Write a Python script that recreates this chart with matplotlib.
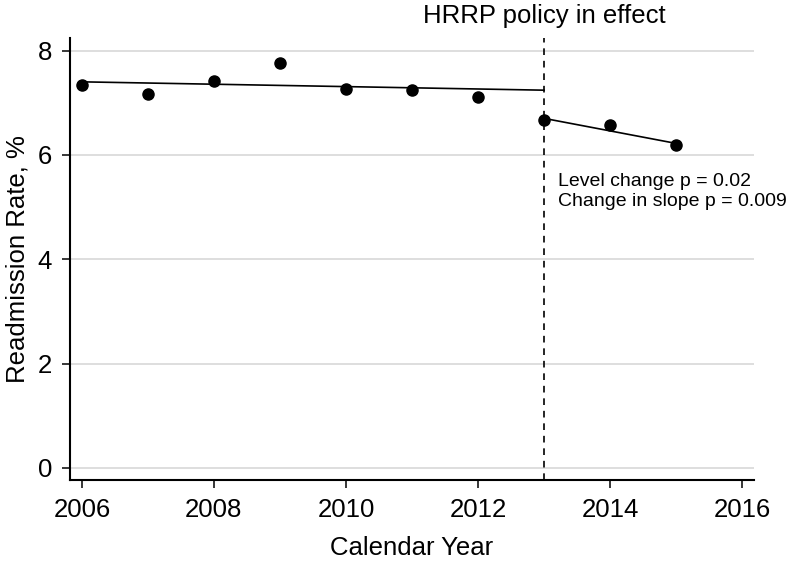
import matplotlib
matplotlib.use("Agg")
import matplotlib.pyplot as plt

years = [2006, 2007, 2008, 2009, 2010, 2011, 2012, 2013, 2014, 2015]
rates = [7.34, 7.16, 7.41, 7.76, 7.27, 7.24, 7.10, 6.67, 6.58, 6.19]
pre_fit_x = [2006, 2013]
pre_fit_y = [7.40, 7.24]
post_fit_x = [2013, 2015]
post_fit_y = [6.70, 6.22]
policy_year = 2013
xticks = [2006, 2008, 2010, 2012, 2014, 2016]
yticks = [0, 2, 4, 6, 8]

plt.rcParams['font.family'] = ['Liberation Sans', 'DejaVu Sans']

fig = plt.figure(figsize=(7.86, 5.65), dpi=100)
ax = fig.add_axes([70/786, 1-480/565, (754-70)/786, (480-38)/565])

ax.set_xlim(2005.82, 2016.18)
ax.set_ylim(-0.23, 8.24)

for t in yticks:
    ax.axhline(t, color='#d4d4d4', lw=1.1, zorder=0)

ax.plot(pre_fit_x, pre_fit_y, color='black', lw=1.2, zorder=2)
ax.plot(post_fit_x, post_fit_y, color='black', lw=1.2, zorder=2)
ax.axvline(policy_year, color='black', lw=1.2, dashes=(4, 3.5), zorder=2)
ax.plot(years, rates, 'o', color='black', ms=8, zorder=3)

ax.set_xticks(xticks)
ax.set_yticks(yticks)
ax.tick_params(axis='both', labelsize=18.5, length=6, width=1.1, direction='out', pad=7)
for s in ['top', 'right']:
    ax.spines[s].set_visible(False)
for s in ['left', 'bottom']:
    ax.spines[s].set_linewidth(1.5)

ax.set_xlabel('Calendar Year', fontsize=18.5, labelpad=10)
ax.set_ylabel('Readmission Rate, %', fontsize=18.5, labelpad=6)

ax.text(policy_year, 8.53, 'HRRP policy in effect', ha='center', va='baseline',
        fontsize=18.5, clip_on=False)
ax.text(2013.21, 5.40, 'Level change p = 0.02', ha='left', va='baseline', fontsize=14)
ax.text(2013.21, 5.02, 'Change in slope p = 0.009', ha='left', va='baseline', fontsize=14)

fig.savefig('out.png', dpi=100)
